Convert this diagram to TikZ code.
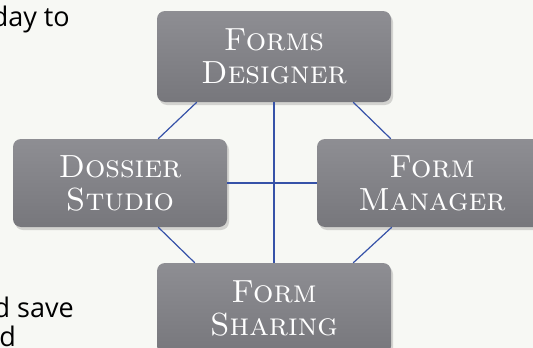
\documentclass[tikz,border=0pt]{standalone}
\usepackage{fontspec}
\setsansfont{Open Sans}
\usetikzlibrary{shadows}
\definecolor{bg}{HTML}{F7F8F4}
\definecolor{boxgray}{HTML}{77777C}
\definecolor{boxlight}{HTML}{8E8E93}
\definecolor{linkblue}{HTML}{3652A8}
\tikzset{
  box/.style={rectangle, rounded corners=8pt, top color=boxlight, bottom color=boxgray,
    text=white, align=center, inner sep=0pt,
    font=\fontsize{32}{33}\selectfont\rmfamily\scshape,
    drop shadow={shadow xshift=2pt, shadow yshift=-3pt, opacity=0.3}},
  link/.style={draw=linkblue, line width=1.2pt},
  body/.style={font=\fontsize{27}{29}\selectfont\sffamily, text=black, inner sep=0pt}
}
\begin{document}
\begin{tikzpicture}[x=1pt, y=-1pt]
                \useasboundingbox (0,0) rectangle (533,348) ;
                \clip (0,0) rectangle (533,348) ;
                \fill [bg] (0,0) rectangle (533,348) ;
                \node [body, anchor=base east] (dayto) at (70,26) {day to} ;
                \node [body, anchor=base east] (dsave) at (74,317) {d save} ;
                \node [body, anchor=base east] (dend) at (16,346) {d} ;
                \node [box, minimum width=234pt, minimum height=91pt] (design) at (274,56.5) {Forms\\Designer} ;
                \node [box, minimum width=214pt, minimum height=88pt] (dossier) at (120,183) {Dossier\\Studio} ;
                \node [box, minimum width=230pt, minimum height=88pt] (manager) at (432,183) {Form\\Manager} ;
                \node [box, minimum width=234pt, minimum height=91pt] (sharing) at (274,308.5) {Form\\Sharing} ;
                \draw [link] (design.south) -- (sharing.north) ;
                \draw [link] (dossier.east) -- (manager.west) ;
                \draw [link] ([xshift=40pt]design.south west) -- ([xshift=-69pt]dossier.north east) ;
                \draw [link] ([xshift=-38pt]design.south east) -- ([xshift=74pt]manager.north west) ;
                \draw [link] ([xshift=-69pt]dossier.south east) -- ([xshift=38pt]sharing.north west) ;
                \draw [link] ([xshift=75pt]manager.south west) -- ([xshift=-38pt]sharing.north east) ;
            \end{tikzpicture}
\end{document}
